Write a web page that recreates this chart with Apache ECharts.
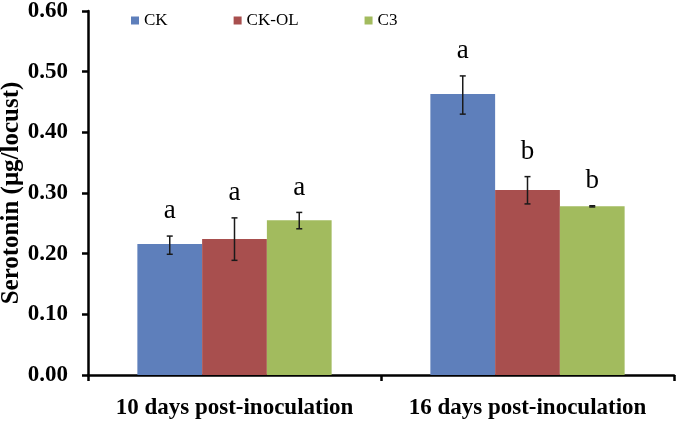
<!DOCTYPE html>
<html><head><meta charset="utf-8">
<script src="https://cdn.jsdelivr.net/npm/echarts@6/dist/echarts.min.js"></script>
<style>html,body{margin:0;padding:0;background:#fff}#c{width:680px;height:423px}</style>
</head><body><div id="c"></div>
<script>
const categories = ['10 days post-inoculation', '16 days post-inoculation'];
const seriesNames = ['CK', 'CK-OL', 'C3'];
const ckValues = [0.216, 0.463];
const ckolValues = [0.224, 0.305];
const c3Values = [0.255, 0.278];
const ckErr = [[0.199, 0.229], [0.430, 0.493]];
const ckolErr = [[0.189, 0.259], [0.282, 0.327]];
const c3Err = [[0.241, 0.268], [0.277, 0.279]];
const ckLetters = ['a', 'a'];
const ckolLetters = ['a', 'b'];
const c3Letters = ['a', 'b'];
const yTicks = [0, 0.6, 0.1];

const colors = ['#5E7FBB', '#A84F4E', '#A2BB5E'];
const values = [ckValues, ckolValues, c3Values];
const errs = [ckErr, ckolErr, c3Err];
const letters = [ckLetters, ckolLetters, c3Letters];
const catGap = 0.337;
const serif = '"Liberation Serif", "Times New Roman", serif';

const series = [];
seriesNames.forEach((n, i) => {
  series.push({
    name: n, type: 'bar', data: values[i], barGap: '0%', barCategoryGap: (catGap * 100) + '%',
    itemStyle: { color: colors[i] }, z: 2
  });
});
seriesNames.forEach((n, i) => {
  series.push({
    type: 'custom', name: n + '-err', z: 5,
    data: errs[i].map((e, k) => [k, e[0], e[1]]),
    renderItem: function (params, api) {
      const k = api.value(0);
      const band = api.size([1, 0])[0];
      const bw = band * (1 - catGap) / 3;
      const cx = api.coord([k, 0])[0] + (i - 1) * bw;
      const yLo = api.coord([k, api.value(1)])[1];
      const yHi = api.coord([k, api.value(2)])[1];
      const cap = 3;
      const st = { stroke: '#1a1a1a', lineWidth: 1.5 };
      return {
        type: 'group', children: [
          { type: 'line', shape: { x1: cx, y1: yLo, x2: cx, y2: yHi }, style: st },
          { type: 'line', shape: { x1: cx - cap, y1: yLo, x2: cx + cap, y2: yLo }, style: st },
          { type: 'line', shape: { x1: cx - cap, y1: yHi, x2: cx + cap, y2: yHi }, style: st },
          { type: 'text', x: cx, y: yHi - 25, style: { text: letters[i][k], font: '27px ' + serif, fill: '#000', align: 'center', verticalAlign: 'middle' } }
        ]
      };
    }
  });
});

const chart = echarts.init(document.getElementById('c'));
chart.setOption({
  animation: false,
  backgroundColor: '#fff',
  grid: { left: 88, right: 6, top: 11, bottom: 48, containLabel: false, outerBoundsMode: 'none' },
  legend: {
    data: seriesNames, top: 7, left: 126, itemWidth: 8, itemHeight: 8, itemGap: 66, icon: 'rect',
    textStyle: { fontFamily: serif, fontSize: 17, color: '#000' }
  },
  xAxis: {
    type: 'category', data: categories,
    axisLine: { lineStyle: { color: '#000', width: 2.5 } },
    axisTick: { show: true, length: 6, lineStyle: { color: '#000', width: 2.5 } },
    axisLabel: { interval: 0, fontFamily: serif, fontWeight: 'bold', fontSize: 23, color: '#000', margin: 22 }
  },
  yAxis: {
    type: 'value', min: yTicks[0], max: yTicks[1], interval: yTicks[2],
    name: 'Serotonin (μg/locust)', nameLocation: 'middle', nameGap: 64, nameMoveOverlap: false,
    nameTextStyle: { fontFamily: serif, fontWeight: 'bold', fontSize: 25, color: '#000' },
    axisLine: { show: true, lineStyle: { color: '#000', width: 2.5 } },
    axisTick: { show: true, length: 6, lineStyle: { color: '#000', width: 2.5 } },
    splitLine: { show: false },
    axisLabel: { fontFamily: serif, fontWeight: 'bold', fontSize: 23, color: '#000', margin: 20, formatter: v => v.toFixed(2) }
  },
  series: series
});
</script></body></html>
